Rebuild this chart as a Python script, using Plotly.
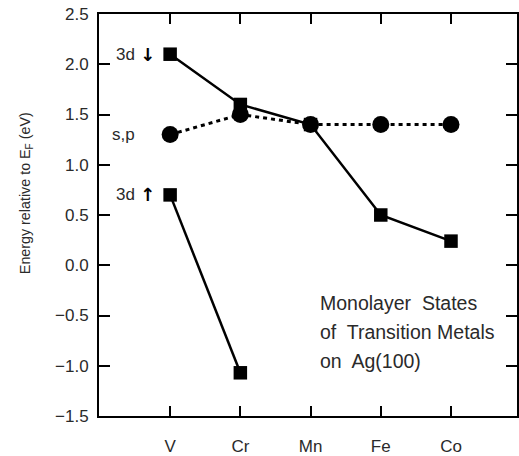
import plotly.graph_objects as go

metals = ["V", "Cr", "Mn", "Fe", "Co"]
metal_x = [1, 2, 3, 4, 5]

d_down_values = [2.1, 1.6, 1.4, 0.5, 0.24]
sp_values = [1.3, 1.5, 1.4, 1.4, 1.4]
d_up_metals = ["V", "Cr"]
d_up_values = [0.7, -1.07]

y_ticks = [-1.5, -1.0, -0.5, 0.0, 0.5, 1.0, 1.5, 2.0, 2.5]
note_lines = ["Monolayer  States", "of  Transition Metals", "on  Ag(100)"]
note_y = [-0.38, -0.665, -0.95]

xmap = dict(zip(metals, metal_x))
FONT = "Liberation Sans"
TXT = "#2a2a2a"

fig = go.Figure()
fig.add_trace(go.Scatter(
    x=metal_x, y=sp_values, mode="lines+markers",
    line=dict(color="black", width=3, dash="4px,4px"),
    marker=dict(symbol="circle", size=17, color="black"),
))
fig.add_trace(go.Scatter(
    x=metal_x, y=d_down_values, mode="lines+markers",
    line=dict(color="black", width=2.5),
    marker=dict(symbol="square", size=13.5, color="black"),
))
fig.add_trace(go.Scatter(
    x=[xmap[m] for m in d_up_metals], y=d_up_values, mode="lines+markers",
    line=dict(color="black", width=2.5),
    marker=dict(symbol="square", size=13.5, color="black"),
))

labels = [
    ("3d", d_down_values[0], "↓"),
    ("s,p", sp_values[0], None),
    ("3d", d_up_values[0], "↑"),
]
for txt, yv, arrow in labels:
    fig.add_annotation(x=metal_x[0], y=yv, text=txt, showarrow=False,
                       xanchor="right", yanchor="middle", xshift=-33,
                       font=dict(family=FONT, size=17, color=TXT))
    if arrow:
        fig.add_annotation(x=metal_x[0], y=yv, text=arrow, showarrow=False,
                           xanchor="center", yanchor="middle", xshift=-23,
                           font=dict(family="DejaVu Sans", size=18,
                                     color="black", weight="bold"))

for line, yv in zip(note_lines, note_y):
    fig.add_annotation(x=3.1, y=yv, text=line, showarrow=False,
                       xanchor="left", yanchor="middle",
                       font=dict(family=FONT, size=19.5, color=TXT))

fig.add_annotation(xref="paper", yref="paper", x=-0.174, y=0.555,
                   text="Energy relative to E<sub>F</sub> (eV)",
                   textangle=-90, showarrow=False,
                   xanchor="center", yanchor="middle",
                   font=dict(family=FONT, size=14.3, color=TXT))

fig.update_layout(
    width=519, height=456,
    margin=dict(l=99, r=0, t=14, b=39),
    paper_bgcolor="white", plot_bgcolor="white",
    showlegend=False,
    font=dict(family=FONT, size=17, color=TXT),
)
fig.update_xaxes(
    range=[-0.013, 5.94], tickmode="array", tickvals=metal_x, ticktext=metals,
    ticks="inside", ticklen=10, tickwidth=2, tickcolor="black",
    showline=True, linewidth=2, linecolor="black", mirror="ticks",
    showgrid=False, zeroline=False, ticklabelstandoff=14,
    tickfont=dict(family=FONT, size=17, color=TXT),
)
fig.update_yaxes(
    range=[-1.5, 2.5], tickmode="array", tickvals=y_ticks,
    tickformat=".1f",
    ticks="inside", ticklen=11, tickwidth=2, tickcolor="black",
    showline=True, linewidth=2, linecolor="black", mirror="ticks",
    showgrid=False, zeroline=False, ticklabelstandoff=5,
    tickfont=dict(family=FONT, size=17, color=TXT),
)

fig.write_html(
    "out.html",
    config={"displayModeBar": False},
    post_script="document.body.style.margin='0px';document.body.style.overflow='hidden';",
)
